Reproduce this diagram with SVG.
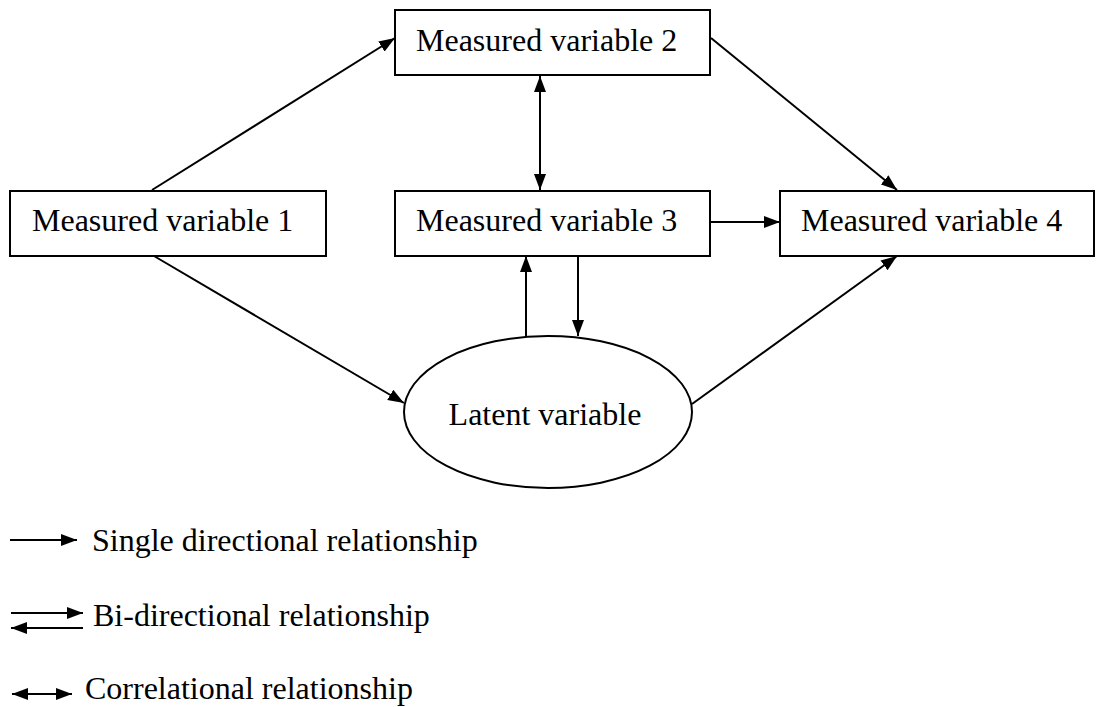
<svg xmlns="http://www.w3.org/2000/svg" width="1096" height="707" viewBox="0 0 1096 707">
  <style>
    .box { fill: #ffffff; stroke: #000000; stroke-width: 2; }
    .lbl { font-family: "Liberation Serif", "Times New Roman", serif; font-size: 32px; fill: #000000; }
    .edge { stroke: #000000; stroke-width: 2; fill: none; }
  </style>
  <defs>
    <marker id="ah" viewBox="0 0 16 12" refX="16" refY="6" markerWidth="16" markerHeight="12" markerUnits="userSpaceOnUse" orient="auto-start-reverse">
      <path d="M0,0 L16,6 L0,12 Z" fill="#000000"/>
    </marker>
  </defs>
  <rect width="1096" height="707" fill="#ffffff"/>

  <!-- connectors -->
  <g id="connectors">
    <line class="edge" x1="152" y1="190" x2="395" y2="38" marker-end="url(#ah)"/>
    <line class="edge" x1="540" y1="76" x2="540" y2="190" marker-start="url(#ah)" marker-end="url(#ah)"/>
    <line class="edge" x1="711" y1="38" x2="897" y2="190" marker-end="url(#ah)"/>
    <line class="edge" x1="710" y1="222" x2="780" y2="222" marker-end="url(#ah)"/>
    <line class="edge" x1="154" y1="256" x2="404" y2="403" marker-end="url(#ah)"/>
    <line class="edge" x1="526" y1="336" x2="526" y2="256" marker-end="url(#ah)"/>
    <line class="edge" x1="578" y1="256" x2="578" y2="336" marker-end="url(#ah)"/>
    <line class="edge" x1="692" y1="404" x2="897" y2="256" marker-end="url(#ah)"/>
  </g>

  <!-- nodes -->
  <g id="mv1">
    <rect class="box" x="10" y="191" width="316" height="65"/>
    <text class="lbl" x="32" y="231">Measured variable 1</text>
  </g>
  <g id="mv2">
    <rect class="box" x="395" y="10" width="315" height="65"/>
    <text class="lbl" x="416" y="51">Measured variable 2</text>
  </g>
  <g id="mv3">
    <rect class="box" x="395" y="191" width="315" height="65"/>
    <text class="lbl" x="416" y="231">Measured variable 3</text>
  </g>
  <g id="mv4">
    <rect class="box" x="780" y="191" width="314" height="65"/>
    <text class="lbl" x="801" y="231">Measured variable 4</text>
  </g>
  <g id="latent">
    <ellipse class="box" cx="548" cy="412" rx="144" ry="76"/>
    <text class="lbl" x="545" y="425" text-anchor="middle">Latent variable</text>
  </g>

  <!-- legend -->
  <g id="legend">
    <line class="edge" x1="10" y1="540" x2="77" y2="540" marker-end="url(#ah)"/>
    <text class="lbl" x="92" y="551">Single directional relationship</text>
    <line class="edge" x1="11" y1="613" x2="83" y2="613" marker-end="url(#ah)"/>
    <line class="edge" x1="83" y1="628" x2="11" y2="628" marker-end="url(#ah)"/>
    <text class="lbl" x="93" y="626">Bi-directional relationship</text>
    <line class="edge" x1="12" y1="694" x2="72" y2="694" marker-start="url(#ah)" marker-end="url(#ah)"/>
    <text class="lbl" x="85" y="699">Correlational relationship</text>
  </g>
</svg>
